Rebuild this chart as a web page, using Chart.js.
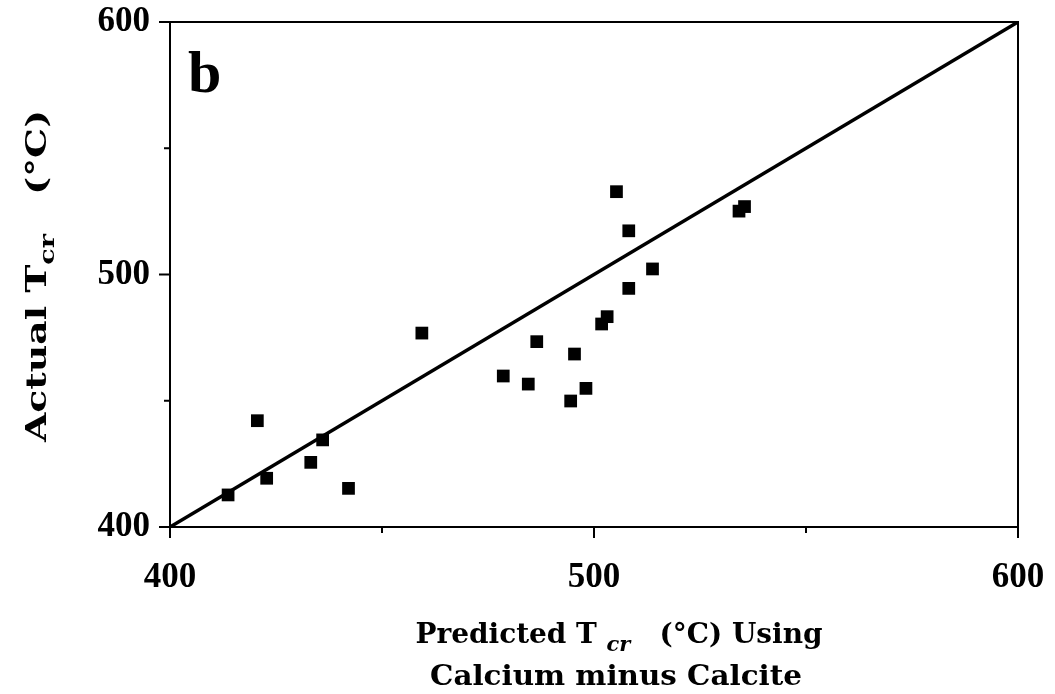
<!DOCTYPE html>
<html>
<head>
<meta charset="utf-8">
<script src="https://cdn.jsdelivr.net/npm/chart.js@4/dist/chart.umd.min.js"></script>
<style>
  html, body { margin: 0; padding: 0; background: #ffffff; }
  #wrap { width: 1055px; height: 694px; }
</style>
</head>
<body>
<div id="wrap"><canvas id="c" width="1055" height="694"></canvas></div>
<script>
// Predicted vs. actual critical temperature (°C)
const predicted = [413.7, 420.6, 422.8, 433.2, 436.0, 442.1, 459.4, 478.6, 484.5, 486.5, 494.5,
                   495.4, 498.1, 501.8, 503.1, 505.3, 508.2, 508.2, 513.8, 534.2, 535.5];
const actual    = [412.7, 442.1, 419.3, 425.6, 434.5, 415.3, 476.8, 459.8, 456.6, 473.4, 449.9,
                   468.5, 454.9, 480.4, 483.3, 532.8, 494.5, 517.3, 502.2, 525.1, 526.9];
// 1:1 reference line
const lineX = [400, 600];
const lineY = [400, 600];
// axis ticks
const axisMin = 400;
const axisMax = 600;
const majorStep = 100;
const minorTicks = [450, 550];
const panelLabel = 'b';

const W = 1055, H = 694;
const PLOT = { left: 170, top: 22, right: 1018, bottom: 527 };
const SERIF = '"DejaVu Serif", serif';
const TICK_FONT = { family: '"Liberation Serif", "Times New Roman", serif', size: 35, weight: 'bold' };

// draws a run of text pieces (with sub-scripts) stretched to a given width
function drawRuns(ctx, runs, cx, cy, width) {
  let natural = 0;
  runs.forEach(r => { ctx.font = r.font; r.w = ctx.measureText(r.text).width; natural += r.w; });
  const sx = width / natural;
  ctx.save();
  ctx.translate(cx - width / 2, cy);
  ctx.scale(sx, 1);
  ctx.textBaseline = 'alphabetic';
  ctx.textAlign = 'left';
  let x = 0;
  runs.forEach(r => {
    ctx.font = r.font;
    ctx.fillText(r.text, x, r.dy || 0);
    x += r.w;
  });
  ctx.restore();
}

const decorations = {
  id: 'decorations',
  afterDatasetsDraw(chart) {
    const ctx = chart.ctx;
    const a = chart.chartArea;
    const xs = chart.scales.x, ys = chart.scales.y;
    ctx.save();
    ctx.strokeStyle = '#000';
    ctx.lineWidth = 2;
    // top and right frame
    ctx.beginPath();
    ctx.moveTo(a.left, a.top); ctx.lineTo(a.right, a.top); ctx.lineTo(a.right, a.bottom);
    ctx.stroke();
    // major tick marks, from the scales' own ticks
    ctx.beginPath();
    xs.ticks.forEach(t => {
      const px = xs.getPixelForValue(t.value);
      ctx.moveTo(px, a.bottom); ctx.lineTo(px, a.bottom + 11);
    });
    ys.ticks.forEach(t => {
      const py = ys.getPixelForValue(t.value);
      ctx.moveTo(a.left, py); ctx.lineTo(a.left - 11, py);
    });
    // minor ticks
    minorTicks.forEach(v => {
      const px = xs.getPixelForValue(v);
      ctx.moveTo(px, a.bottom); ctx.lineTo(px, a.bottom + 6);
      const py = ys.getPixelForValue(v);
      ctx.moveTo(a.left, py); ctx.lineTo(a.left - 6, py);
    });
    ctx.stroke();

    ctx.fillStyle = '#000';
    // panel letter
    ctx.font = 'bold 60px "Liberation Serif", serif';
    ctx.textBaseline = 'alphabetic';
    ctx.textAlign = 'left';
    ctx.fillText(panelLabel, a.left + 18, a.top + 70);

    const big = 'bold 28px ' + SERIF;
    const subI = 'italic bold 21px ' + SERIF;
    const sub = 'bold 20px ' + SERIF;
    // x axis title
    drawRuns(ctx, [
      { text: 'Predicted T ', font: big },
      { text: 'cr', font: subI, dy: 8 },
      { text: '   (°C) Using', font: big }
    ], 619, 643, 407);
    drawRuns(ctx, [{ text: 'Calcium minus Calcite', font: big }], 616, 685, 372);
    // y axis title
    ctx.save();
    ctx.translate(46, 276);
    ctx.rotate(-Math.PI / 2);
    drawRuns(ctx, [
      { text: 'Actual T', font: big },
      { text: 'cr', font: sub, dy: 8 },
      { text: '   (°C)', font: big }
    ], 0, 0, 332);
    ctx.restore();
    ctx.restore();
  }
};

const points = predicted.map((p, i) => ({ x: p, y: actual[i] }));
const line = lineX.map((v, i) => ({ x: v, y: lineY[i] }));

// fixed axis boxes; tick labels may overhang the plot edges freely
function noOverhang(scale) {
  scale.paddingTop = 0; scale.paddingBottom = 0;
  scale.paddingLeft = 0; scale.paddingRight = 0;
}

const axisCommon = {
  type: 'linear',
  min: axisMin,
  max: axisMax,
  border: { display: true, color: '#000', width: 2 },
  grid: { drawOnChartArea: false, drawTicks: false, color: '#000', lineWidth: 2 },
  ticks: { stepSize: majorStep, color: '#000', font: TICK_FONT }
};

const chart = new Chart(document.getElementById('c'), {
  type: 'scatter',
  data: {
    datasets: [
      {
        type: 'line',
        data: line,
        borderColor: '#000',
        borderWidth: 3.5,
        pointRadius: 0,
        fill: false,
        order: 2
      },
      {
        data: points,
        pointStyle: 'rect',
        pointRadius: 9,
        pointHoverRadius: 9,
        backgroundColor: '#000',
        borderColor: '#000',
        borderWidth: 0,
        order: 1
      }
    ]
  },
  options: {
    responsive: false,
    animation: false,
    devicePixelRatio: 1,
    layout: { padding: { left: 0, top: PLOT.top, right: W - PLOT.right, bottom: 0 } },
    plugins: { legend: { display: false }, tooltip: { enabled: false } },
    scales: {
      x: Object.assign({}, axisCommon, {
        position: 'bottom',
        ticks: Object.assign({}, axisCommon.ticks, { padding: 30 }),
        afterFit(scale) { scale.height = H - PLOT.bottom; noOverhang(scale); }
      }),
      y: Object.assign({}, axisCommon, {
        position: 'left',
        ticks: Object.assign({}, axisCommon.ticks, { padding: 20 }),
        afterFit(scale) { scale.width = PLOT.left; noOverhang(scale); }
      })
    }
  },
  plugins: [decorations]
});
</script>
</body>
</html>
